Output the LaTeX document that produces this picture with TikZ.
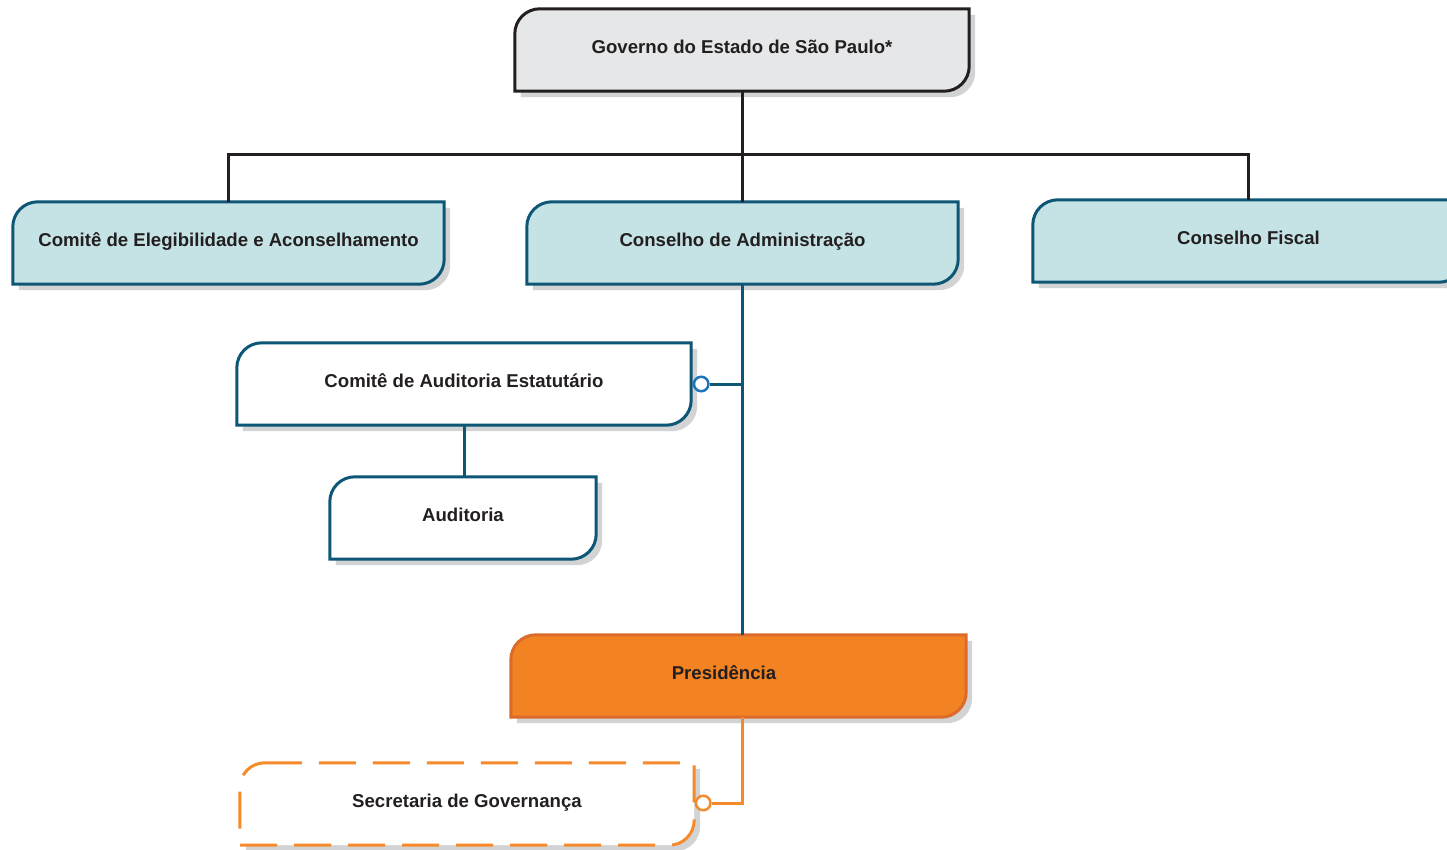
\documentclass[tikz,border=0pt]{standalone}
\usepackage{fontspec}
\setmainfont{Liberation Sans}
\usetikzlibrary{calc}
\definecolor{govfill}{HTML}{E6E7E8}
\definecolor{tealfill}{HTML}{C5E3E5}
\definecolor{tealline}{HTML}{0E5676}
\definecolor{shadowgray}{HTML}{D1D3D4}
\definecolor{orgfill}{HTML}{F28222}
\definecolor{orgline}{HTML}{DB6B2A}
\definecolor{dashorange}{HTML}{F58A2A}
\definecolor{circblue}{HTML}{1B75BC}
\definecolor{txt}{HTML}{231F20}
\pgfdeclarelayer{background}
\pgfsetlayers{background,main}
\newcommand\orgpath[3]{%
 ([xshift=#2+25pt,yshift=#3]#1.north west) -- ([xshift=#2,yshift=#3]#1.north east)
 -- ([xshift=#2,yshift=#3+25pt]#1.south east) arc[start angle=0,end angle=-90,radius=25pt]
 -- ([xshift=#2,yshift=#3]#1.south west) -- ([xshift=#2,yshift=#3-25pt]#1.north west)
 arc[start angle=180,end angle=90,radius=25pt] -- cycle}
\tikzset{
 orgbox/.style={minimum height=82pt, inner sep=0pt, text height=13pt, text depth=6pt,
   font=\fontsize{18.6}{22}\selectfont\bfseries, text=txt},
 boxshadow/.style={fill=shadowgray},
 blackline/.style={draw=txt, line width=3pt},
 tealconn/.style={draw=tealline, line width=3pt},
 orangeconn/.style={draw=dashorange, line width=3pt},
 endcirc/.style={circle, fill=white, line width=2.5pt, minimum size=14.5pt, inner sep=0pt},
}
\begin{document}
\begin{tikzpicture}[x=1pt,y=1pt]
\useasboundingbox (0,0) rectangle (1447,-850);
\node[orgbox, minimum width=454pt] (gov) at (742,-50) {Governo do Estado de São Paulo*};
\node[orgbox, minimum width=431pt] (ceac) at (228.5,-243) {Comitê de Elegibilidade e Aconselhamento};
\node[orgbox, minimum width=431pt] (cadm) at (742.5,-243) {Conselho de Administração};
\node[orgbox, minimum width=431pt] (cfis) at (1248.5,-241) {Conselho Fiscal};
\node[orgbox, minimum width=454pt] (caud) at (464,-384) {Comitê de Auditoria Estatutário};
\node[orgbox, minimum width=266pt] (aud) at (463,-518) {Auditoria};
\node[orgbox, minimum width=455pt] (pres) at (738.5,-676) {\hspace*{-29pt}Presidência};
\node[orgbox, minimum width=454pt] (sec) at (467,-804) {Secretaria de Governança};
\begin{pgfonlayer}{background}
\foreach \n/\f/\d in {gov/govfill/txt, ceac/tealfill/tealline, cadm/tealfill/tealline, cfis/tealfill/tealline, caud/white/tealline, aud/white/tealline, pres/orgfill/orgline}{
 \fill[boxshadow] \orgpath{\n}{6pt}{-6pt};
 \filldraw[fill=\f, draw=\d, line width=3pt] \orgpath{\n}{0pt}{0pt};
}
\fill[boxshadow] \orgpath{sec}{6pt}{-6pt};
\filldraw[fill=white, draw=dashorange, line width=3pt, dash pattern=on 37pt off 17pt] \orgpath{sec}{0pt}{0pt};
\end{pgfonlayer}
\coordinate (bus) at (742,-155);
\draw[blackline] (gov.south) -- (gov.south |- cadm.north);
\draw[blackline] (ceac.north) |- (bus) -| (cfis.north);
\draw[tealconn] (cadm.south) -- (cadm.south |- pres.north);
\draw[tealconn] (caud.south) -- (caud.south |- aud.north);
\node[endcirc, draw=circblue] (c1) at ([xshift=10pt]caud.east) {};
\draw[tealconn] (c1.east) -- (c1 -| cadm.south);
\node[endcirc, draw=dashorange] (c2) at ([xshift=9pt,yshift=1pt]sec.east) {};
\draw[orangeconn] (pres.south -| cadm.south) |- (c2.east);
\end{tikzpicture}
\end{document}
